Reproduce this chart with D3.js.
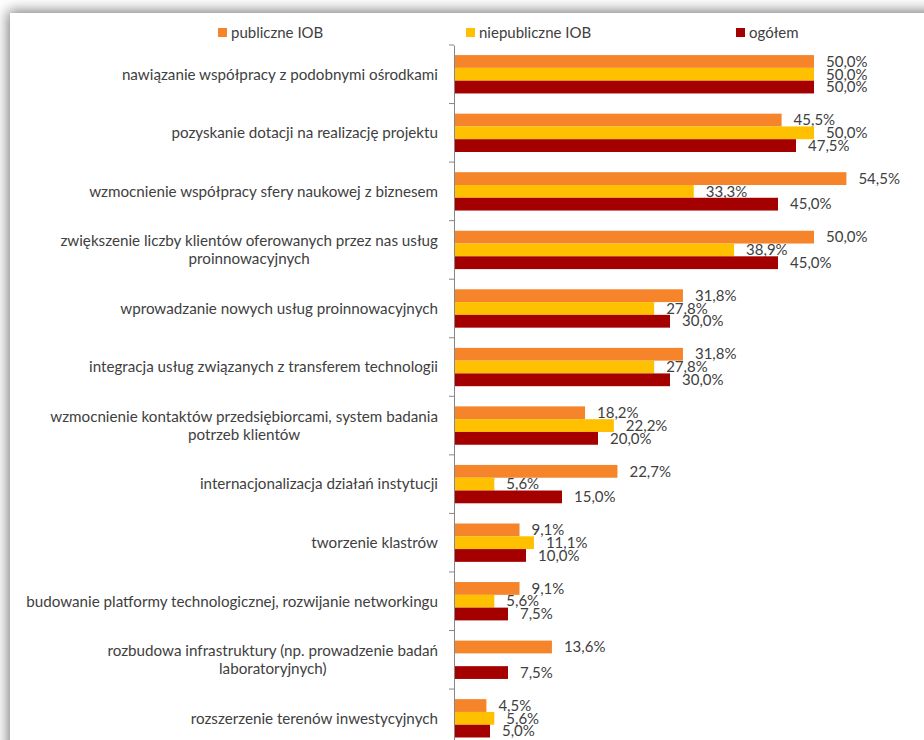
<!DOCTYPE html>
<html>

<head>
    <meta charset="utf-8">
    <script src="https://d3js.org/d3.v7.min.js"></script>
    <style>
        body { margin: 0; background: #fff; }
        text { font-family: Lato, "Open Sans", sans-serif; fill: #404040; }
    </style>
</head>

<body>
    <svg id="mysvg" width="924" height="740"></svg>
    <script>
        // dane z wykresu (w %)
        var categories = [
            "nawiązanie współpracy z podobnymi ośrodkami",
            "pozyskanie dotacji na realizację projektu",
            "wzmocnienie współpracy sfery naukowej z biznesem",
            "zwiększenie liczby klientów oferowanych przez nas usług\nproinnowacyjnych",
            "wprowadzanie nowych usług proinnowacyjnych",
            "integracja usług związanych z transferem technologii",
            "wzmocnienie kontaktów przedsiębiorcami, system badania\npotrzeb klientów",
            "internacjonalizacja działań instytucji",
            "tworzenie klastrów",
            "budowanie platformy technologicznej, rozwijanie networkingu",
            "rozbudowa infrastruktury (np. prowadzenie badań\nlaboratoryjnych)",
            "rozszerzenie terenów inwestycyjnych"
        ];
        var seriesNames = ["publiczne IOB", "niepubliczne IOB", "ogółem"];
        var publiczne = [50.0, 45.5, 54.5, 50.0, 31.8, 31.8, 18.2, 22.7, 9.1, 9.1, 13.6, 4.5];
        var niepubliczne = [50.0, 50.0, 33.3, 38.9, 27.8, 27.8, 22.2, 5.6, 11.1, 5.6, null, 5.6];
        var ogolem = [50.0, 47.5, 45.0, 45.0, 30.0, 30.0, 20.0, 15.0, 10.0, 7.5, 7.5, 5.0];
        var colors = ["#F5842A", "#FFC000", "#A50000"];

        var svg = d3.select("svg");
        var width = +svg.attr("width");
        var height = +svg.attr("height");

        // tło z cieniem
        var defs = svg.append("defs");
        var f = defs.append("filter").attr("id", "shadow")
            .attr("x", "-10%").attr("y", "-10%").attr("width", "130%").attr("height", "130%");
        f.append("feGaussianBlur").attr("in", "SourceAlpha").attr("stdDeviation", 7).attr("result", "blur");
        f.append("feOffset").attr("in", "blur").attr("dx", -2).attr("dy", -2).attr("result", "off");
        f.append("feFlood").attr("flood-color", "#555").attr("flood-opacity", 0.8);
        f.append("feComposite").attr("in2", "off").attr("operator", "in").attr("result", "sh");
        var m = f.append("feMerge");
        m.append("feMergeNode").attr("in", "sh");
        m.append("feMergeNode").attr("in", "SourceGraphic");

        svg.append("rect").attr("width", width).attr("height", height).attr("fill", "#fff");
        svg.append("rect")
            .attr("x", 10).attr("y", 13)
            .attr("width", 1000).attr("height", 1000)
            .attr("fill", "#fff")
            .attr("filter", "url(#shadow)");

        var data = categories.map(function (c, i) {
            return { cat: c, vals: [publiczne[i], niepubliczne[i], ogolem[i]] };
        });

        var xScale = d3.scaleLinear().domain([0, 60]).range([454, 886]);
        var yScale = d3.scaleBand().domain(categories).range([45, 45 + 12 * 58.55]).paddingInner(0);
        var ySub = d3.scaleBand().domain(d3.range(3)).range([0, yScale.bandwidth()]).paddingOuter(0.79);

        var fmt = function (v) { return v.toFixed(1).replace(".", ",") + "%"; };

        var groups = svg.selectAll("g.cat")
            .data(data)
            .enter()
            .append("g")
            .attr("class", "cat")
            .attr("transform", function (d) { return "translate(0," + yScale(d.cat) + ")"; });

        var items = groups.selectAll("g.item")
            .data(function (d) {
                return d.vals.map(function (v, k) { return { v: v, k: k }; }).filter(function (e) { return e.v != null; });
            })
            .enter()
            .append("g").attr("class", "item");

        items.append("rect")
            .attr("x", xScale(0))
            .attr("y", function (d) { return ySub(d.k); })
            .attr("width", function (d) { return xScale(d.v) - xScale(0); })
            .attr("height", ySub.bandwidth())
            .attr("fill", function (d) { return colors[d.k]; });

        items.append("text")
            .attr("x", function (d) { return xScale(d.v) + 12; })
            .attr("y", function (d) { return ySub(d.k) + ySub.bandwidth() / 2; })
            .attr("dy", "0.35em")
            .style("font-size", "15px")
            .text(function (d) { return fmt(d.v); });

        // oś Y
        var yAxis = d3.axisLeft(yScale).tickSize(0).tickFormat("");
        var ax = svg.append("g").attr("transform", "translate(" + xScale(0) + ",0)").call(yAxis);
        ax.select(".domain").attr("stroke", "#868686");
        ax.selectAll(".bound")
            .data(d3.range(13))
            .enter()
            .append("line")
            .attr("x1", -5).attr("x2", 0)
            .attr("y1", function (i) { return 45 + i * yScale.step(); })
            .attr("y2", function (i) { return 45 + i * yScale.step(); })
            .attr("stroke", "#868686");

        // etykiety kategorii (wiersze wyśrodkowane, blok do prawej)
        groups.each(function (d) {
            var lines = d.cat.split("\n");
            var g = d3.select(this);
            var lh = 18.5;
            var cy = yScale.bandwidth() / 2;
            var t = g.append("text")
                .attr("text-anchor", "middle")
                .style("font-size", "15.2px");
            lines.forEach(function (l, j) {
                t.append("tspan")
                    .attr("x", 0)
                    .attr("y", cy + (j - (lines.length - 1) / 2) * lh)
                    .attr("dy", "0.35em")
                    .text(l);
            });
            var w = t.node().getBBox().width;
            t.selectAll("tspan").attr("x", 438 - w / 2);
        });

        // legenda
        var legX = [218, 466, 736];
        var leg = svg.selectAll("g.leg")
            .data(seriesNames)
            .enter()
            .append("g")
            .attr("class", "leg")
            .attr("transform", function (d, i) { return "translate(" + legX[i] + ",28)"; });
        leg.append("rect").attr("width", 9).attr("height", 9)
            .attr("fill", function (d, i) { return colors[i]; });
        leg.append("text")
            .attr("x", 13).attr("y", 4.5).attr("dy", "0.35em")
            .style("font-size", "15px")
            .text(function (d) { return d; });
    </script>
</body>

</html>
